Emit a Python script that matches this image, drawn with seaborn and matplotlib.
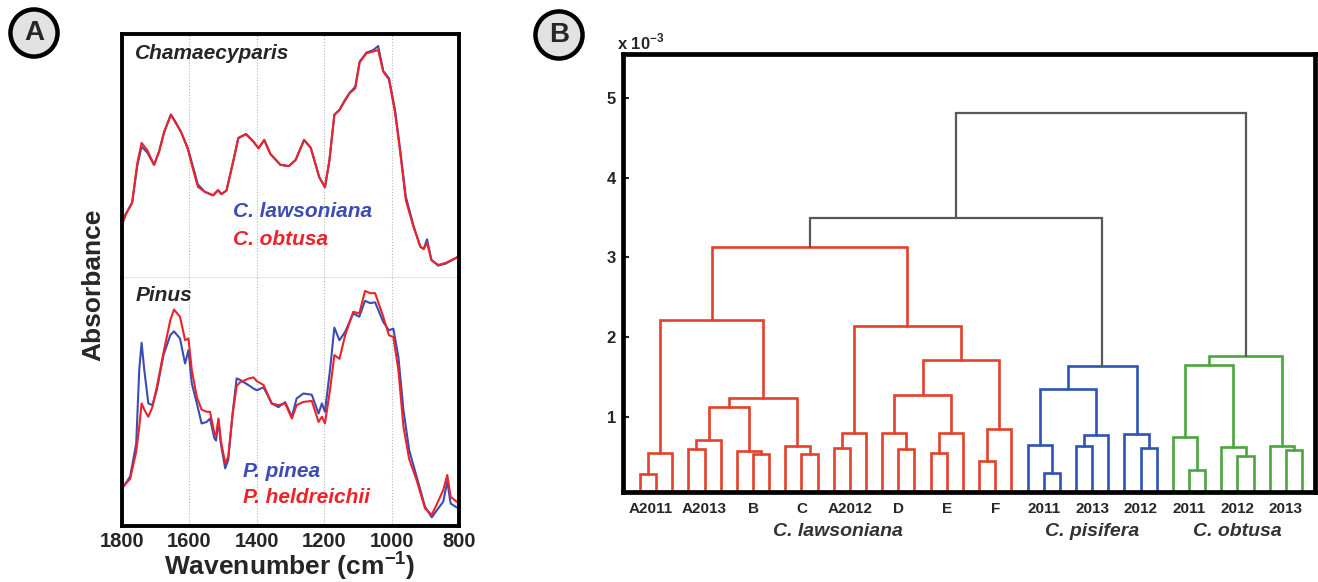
import matplotlib
matplotlib.use("Agg")
import matplotlib.pyplot as plt
import seaborn as sns

# =====================================================
# DATOS - panel A (espectros FTIR, absorbancia normalizada)
# =====================================================

wn_cham = [1800, 1790, 1770, 1755, 1742, 1725, 1705, 1690, 1675, 1655,
           1640, 1625, 1605, 1590, 1575, 1555, 1530, 1515, 1505, 1490,
           1470, 1455, 1432, 1410, 1395, 1378, 1360, 1330, 1305, 1285,
           1260, 1240, 1215, 1198, 1185, 1170, 1155, 1140, 1125, 1108,
           1095, 1075, 1055, 1040, 1025, 1008, 990, 975, 958, 935,
           915, 905, 895, 882, 862, 840, 810, 800]

abs_obtusa = [0.22, 0.26, 0.31, 0.47, 0.555, 0.525, 0.465, 0.52, 0.60, 0.67,
              0.635, 0.60, 0.53, 0.45, 0.375, 0.355, 0.34, 0.362, 0.345, 0.36,
              0.48, 0.575, 0.59, 0.56, 0.533, 0.567, 0.51, 0.465, 0.46, 0.485,
              0.567, 0.535, 0.415, 0.373, 0.48, 0.67, 0.69, 0.725, 0.758, 0.779,
              0.885, 0.922, 0.93, 0.935, 0.847, 0.815, 0.68, 0.52, 0.32, 0.21,
              0.13, 0.12, 0.145, 0.075, 0.055, 0.063, 0.083, 0.09]

abs_lawsoniana = [0.22, 0.26, 0.31, 0.46, 0.54, 0.515, 0.465, 0.52, 0.60, 0.672,
                  0.638, 0.60, 0.535, 0.46, 0.385, 0.355, 0.34, 0.36, 0.345, 0.36,
                  0.48, 0.575, 0.592, 0.56, 0.533, 0.567, 0.51, 0.465, 0.46, 0.485,
                  0.567, 0.535, 0.415, 0.373, 0.48, 0.67, 0.69, 0.728, 0.76, 0.785,
                  0.888, 0.925, 0.935, 0.952, 0.85, 0.82, 0.69, 0.53, 0.335, 0.215,
                  0.13, 0.12, 0.16, 0.075, 0.052, 0.06, 0.083, 0.09]

wn_pinus = [1800, 1776, 1758, 1749, 1742, 1734, 1722, 1710, 1697, 1677,
            1657, 1646, 1628, 1613, 1603, 1593, 1578, 1564, 1549, 1539,
            1526, 1521, 1514, 1507, 1494, 1485, 1472, 1460, 1450, 1425,
            1410, 1400, 1380, 1356, 1336, 1316, 1296, 1282, 1262, 1237,
            1217, 1207, 1198, 1183, 1170, 1155, 1138, 1114, 1096, 1079,
            1064, 1049, 1025, 1008, 995, 980, 965, 948, 926, 901,
            881, 862, 847, 835, 825, 807, 800]

abs_pinea = [0.15, 0.20, 0.333, 0.63, 0.74, 0.63, 0.495, 0.488, 0.548, 0.69,
             0.77, 0.786, 0.757, 0.656, 0.71, 0.575, 0.495, 0.414, 0.42, 0.434,
             0.354, 0.345, 0.427, 0.333, 0.233, 0.266, 0.454, 0.596, 0.59, 0.569,
             0.555, 0.548, 0.56, 0.495, 0.48, 0.50, 0.441, 0.515, 0.535, 0.53,
             0.454, 0.495, 0.461, 0.629, 0.801, 0.75, 0.784, 0.858, 0.845, 0.909,
             0.90, 0.903, 0.824, 0.79, 0.797, 0.683, 0.468, 0.306, 0.20, 0.078,
             0.035, 0.071, 0.098, 0.18, 0.091, 0.075, 0.073]

abs_heldreichii = [0.155, 0.19, 0.30, 0.40, 0.495, 0.47, 0.441, 0.48, 0.56, 0.70,
                   0.83, 0.874, 0.845, 0.75, 0.757, 0.629, 0.52, 0.47, 0.461, 0.461,
                   0.374, 0.365, 0.434, 0.347, 0.253, 0.28, 0.45, 0.565, 0.58, 0.595,
                   0.60, 0.585, 0.569, 0.495, 0.488, 0.495, 0.434, 0.488, 0.501, 0.505,
                   0.42, 0.441, 0.414, 0.548, 0.69, 0.675, 0.77, 0.865, 0.858, 0.949,
                   0.94, 0.94, 0.845, 0.77, 0.763, 0.629, 0.401, 0.27, 0.185, 0.071,
                   0.045, 0.10, 0.145, 0.206, 0.118, 0.098, 0.095]

wn_ticks = [1800, 1600, 1400, 1200, 1000, 800]

# =====================================================
# DATOS - panel B (dendrograma, 42 hojas, altura x 10^-3)
# =====================================================

n_leaves = 42
merge_left = [0, 42, 3, 44, 7, 6, 10, 9, 45, 50, 43, 12, 53, 16, 15, 18, 57,
              21, 59, 56, 61, 54, 52, 25, 24, 27, 67, 31, 30, 66, 71, 34, 33,
              37, 36, 40, 39, 74, 79, 64, 81]
merge_right = [1, 2, 4, 5, 8, 46, 11, 48, 47, 49, 51, 13, 14, 17, 55, 19, 20,
               22, 23, 58, 60, 62, 63, 26, 65, 28, 29, 32, 69, 68, 70, 35, 73,
               38, 75, 41, 77, 76, 78, 72, 80]
merge_height = [0.29, 0.55, 0.60, 0.71, 0.54, 0.58, 0.54, 0.64, 1.12, 1.24,
                2.22, 0.61, 0.80, 0.60, 0.80, 0.55, 0.80, 0.45, 0.85, 1.27,
                1.71, 2.14, 3.13, 0.30, 0.65, 0.64, 0.77, 0.61, 0.79, 1.35,
                1.64, 0.34, 0.75, 0.51, 0.62, 0.59, 0.64, 1.65, 1.77, 3.49, 4.81]
color_threshold = 3.2

group_labels = ["A2011", "A2013", "B", "C", "A2012", "D", "E", "F",
                "2011", "2013", "2012", "2011", "2012", "2013"]
group_pos = [0.65, 4, 7, 10, 13, 16, 19, 22, 25, 28, 31, 34, 37, 40]
species_labels = ["C. lawsoniana", "C. pisifera", "C. obtusa"]
species_pos = [12.25, 28, 37]

# =====================================================
# ESTILO
# =====================================================

sns.set_style("white")
plt.rcParams["font.family"] = ["Liberation Sans", "DejaVu Sans"]
plt.rcParams["mathtext.fontset"] = "custom"
plt.rcParams["mathtext.rm"] = "Liberation Sans:bold"
plt.rcParams["mathtext.bf"] = "Liberation Sans:bold"

blue = "#3b4db3"
red = "#ee2229"
clust_colors = ["#e4402b", "#2f52b6", "#4aa63c"]
gray_link = "#585858"

fig = plt.figure(figsize=(13.18, 5.82), dpi=100)

# =====================================================
# PANEL A
# =====================================================

ax_top = fig.add_axes([0.0926, 0.5218, 0.2557, 0.4192])
ax_bot = fig.add_axes([0.0926, 0.0962, 0.2557, 0.4256], sharex=ax_top)

for ax, xs, ys, col in [(ax_top, wn_cham, abs_lawsoniana, blue),
                        (ax_top, wn_cham, abs_obtusa, red),
                        (ax_bot, wn_pinus, abs_pinea, blue),
                        (ax_bot, wn_pinus, abs_heldreichii, red)]:
    sns.lineplot(x=xs, y=ys, ax=ax, color=col, lw=1.5, sort=False,
                 estimator=None, solid_joinstyle="round")

for ax in [ax_top, ax_bot]:
    ax.set_xlim(1800, 800)
    ax.set_ylim(0, 1)
    ax.set_yticks([])
    ax.set_ylabel("")
    ax.set_xlabel("")
    for w in wn_ticks[1:-1]:
        ax.axvline(w, color="#b5b5b5", lw=0.8, ls=":", zorder=0)
    for s in ax.spines.values():
        s.set_visible(True)
        s.set_color("black")
        s.set_linewidth(2.8)

ax_top.spines["bottom"].set_color("#777777")
ax_top.spines["bottom"].set_linewidth(1.0)
ax_bot.spines["top"].set_visible(False)
ax_top.tick_params(axis="x", length=0, labelbottom=False)

ax_bot.set_xticks(wn_ticks)
ax_bot.set_xticklabels([str(w) for w in wn_ticks], fontsize=14.5,
                       fontweight="bold")
ax_bot.tick_params(axis="x", length=0, pad=4)

ax_top.text(0.039, 0.923, "Chamaecyparis", transform=ax_top.transAxes,
            fontsize=15, fontweight="bold", style="italic", va="center")
ax_top.text(0.329, 0.272, "C. lawsoniana", transform=ax_top.transAxes,
            fontsize=15, fontweight="bold", style="italic", va="center",
            color=blue)
ax_top.text(0.329, 0.161, "C. obtusa", transform=ax_top.transAxes,
            fontsize=15, fontweight="bold", style="italic", va="center",
            color=red)

ax_bot.text(0.039, 0.93, "Pinus", transform=ax_bot.transAxes,
            fontsize=15, fontweight="bold", style="italic", va="center")
ax_bot.text(0.358, 0.222, "P. pinea", transform=ax_bot.transAxes,
            fontsize=15, fontweight="bold", style="italic", va="center",
            color=blue)
ax_bot.text(0.358, 0.114, "P. heldreichii", transform=ax_bot.transAxes,
            fontsize=15, fontweight="bold", style="italic", va="center",
            color=red)

fig.text(93 / 1318, 1 - 285 / 582, "Absorbance", rotation=90,
         fontsize=19, fontweight="bold", ha="center", va="center")
fig.text(290 / 1318, 1 - 566 / 582, "Wavenumber (cm$^{-1}$)",
         fontsize=19, fontweight="bold", ha="center", va="center")

# =====================================================
# PANEL B - DENDROGRAMA
# =====================================================

axd = fig.add_axes([0.4727, 0.1546, 0.5250, 0.7526])

node_x = {i: float(i) for i in range(n_leaves)}
node_h = {i: 0.0 for i in range(n_leaves)}
children = {}
for k, (a, b, h) in enumerate(zip(merge_left, merge_right, merge_height)):
    nid = n_leaves + k
    children[nid] = (a, b)
    node_x[nid] = (node_x[a] + node_x[b]) / 2
    node_h[nid] = h

node_color = {}
palette_iter = iter(clust_colors)


def asignar_color(nid, color):
    if nid < n_leaves:
        return
    if node_h[nid] >= color_threshold:
        node_color[nid] = gray_link
        c = None
    else:
        c = color if color is not None else next(palette_iter)
        node_color[nid] = c
    for ch in children[nid]:
        asignar_color(ch, c)


root = n_leaves + len(merge_height) - 1
asignar_color(root, None)

for nid, (a, b) in children.items():
    axd.plot([node_x[a], node_x[a], node_x[b], node_x[b]],
             [node_h[a], node_h[nid], node_h[nid], node_h[b]],
             color=node_color[nid],
             lw=1.9 if node_color[nid] != gray_link else 1.6,
             solid_joinstyle="miter")

axd.set_xlim(-1.05, 41.8)
axd.set_ylim(0.06, 5.55)
axd.set_xticks([])
axd.set_yticks([1, 2, 3, 4, 5])
axd.set_yticklabels(["1", "2", "3", "4", "5"], fontsize=12, fontweight="bold")
axd.tick_params(axis="y", direction="in", length=4, width=1.5, pad=5, left=True)
for s in axd.spines.values():
    s.set_visible(True)
    s.set_color("black")
    s.set_linewidth(3.4)

trans = axd.get_xaxis_transform()
for lab, x in zip(group_labels, group_pos):
    axd.text(x, -0.039, lab, transform=trans, ha="center", va="center",
             fontsize=11, fontweight="bold")
for lab, x in zip(species_labels, species_pos):
    axd.text(x, -0.091, lab, transform=trans, ha="center", va="center",
             fontsize=14, fontweight="bold", style="italic", color="#333333")

axd.text(-0.009, 1.027, "x 10$^{-3}$", transform=axd.transAxes,
         fontsize=12, fontweight="bold", ha="left", va="center")

# =====================================================
# ETIQUETAS DE PANEL
# =====================================================

for lab, x, y in [("A", 34, 33), ("B", 559, 35)]:
    fig.text(x / 1318, 1 - y / 582, lab, fontsize=20, fontweight="bold",
             ha="center", va="center",
             bbox=dict(boxstyle="circle,pad=0.38", fc="#e2e2e2", ec="black",
                       lw=3.2))

fig.savefig("out.png", dpi=100)
